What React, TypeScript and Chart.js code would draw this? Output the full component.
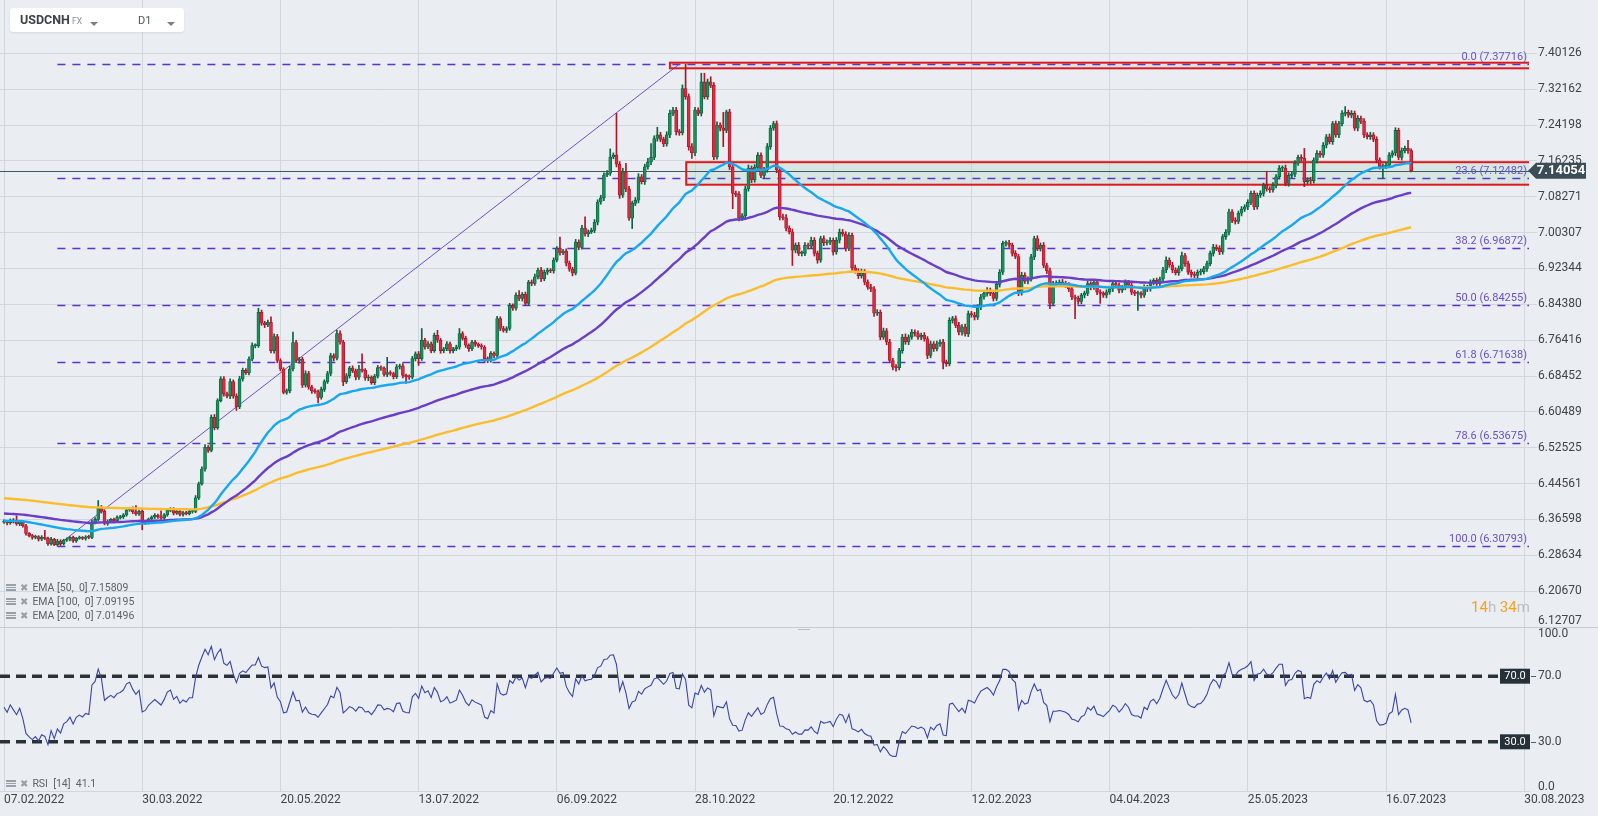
import React, { useEffect, useRef } from "react";
import { Chart, registerables } from "chart.js";

Chart.register(...registerables);

// ---------- layout constants ----------
const W = 1598;
const H = 816;
const MAIN_H = 627;
const RSI_H = H - MAIN_H;
const PLOT_RIGHT = 1529;
const AXIS_W = W - PLOT_RIGHT;
const FONT = "Roboto, 'DejaVu Sans', sans-serif";
const BG = "#eaedf1";
const GRID = "#d2d7dd";

// ---------- data ----------
const symbolName = "USDCNH";
const symbolType = "FX";
const intervalName = "D1";

const dateLabels = [
  "07.02.2022", "30.03.2022", "20.05.2022", "13.07.2022", "06.09.2022", "28.10.2022",
  "20.12.2022", "12.02.2023", "04.04.2023", "25.05.2023", "16.07.2023", "30.08.2023",
];
const dateStep = 44; // candles between two date labels
const xMin = -1.2735;
const xMax = 485.52;

const priceTicks = [
  6.12707, 6.2067, 6.28634, 6.36598, 6.44561, 6.52525, 6.60489, 6.68452, 6.76416,
  6.8438, 6.92344, 7.00307, 7.08271, 7.16235, 7.24198, 7.32162, 7.40126,
];
const priceMin = 6.12707;
const priceMax = 7.51963;

const firstOpen = 6.36;
const closes = [
  6.362, 6.358, 6.364, 6.360, 6.356, 6.361, 6.352, 6.335, 6.330, 6.326,
  6.328, 6.322, 6.326, 6.324, 6.312, 6.322, 6.310, 6.318, 6.312, 6.320,
  6.322, 6.326, 6.318, 6.324, 6.326, 6.324, 6.327, 6.326, 6.360, 6.366,
  6.393, 6.384, 6.357, 6.362, 6.366, 6.363, 6.370, 6.372, 6.376, 6.387,
  6.390, 6.383, 6.378, 6.384, 6.358, 6.360, 6.367, 6.371, 6.375, 6.372,
  6.369, 6.376, 6.386, 6.389, 6.380, 6.384, 6.377, 6.381, 6.379, 6.384,
  6.384, 6.414, 6.445, 6.478, 6.526, 6.519, 6.593, 6.570, 6.630, 6.678,
  6.645, 6.640, 6.672, 6.640, 6.616, 6.678, 6.697, 6.692, 6.722, 6.752,
  6.752, 6.826, 6.802, 6.798, 6.804, 6.741, 6.772, 6.719, 6.700, 6.648,
  6.652, 6.700, 6.759, 6.719, 6.722, 6.664, 6.690, 6.660, 6.652, 6.650,
  6.637, 6.655, 6.672, 6.690, 6.730, 6.724, 6.779, 6.760, 6.672, 6.685,
  6.702, 6.696, 6.682, 6.700, 6.697, 6.680, 6.682, 6.670, 6.684, 6.703,
  6.702, 6.688, 6.692, 6.690, 6.683, 6.705, 6.707, 6.686, 6.683, 6.682,
  6.723, 6.734, 6.723, 6.764, 6.749, 6.756, 6.741, 6.775, 6.764, 6.741,
  6.745, 6.756, 6.741, 6.745, 6.749, 6.779, 6.768, 6.753, 6.745, 6.760,
  6.755, 6.752, 6.749, 6.723, 6.719, 6.735, 6.730, 6.812, 6.790, 6.786,
  6.790, 6.841, 6.835, 6.864, 6.857, 6.866, 6.846, 6.893, 6.890, 6.905,
  6.920, 6.900, 6.915, 6.920, 6.918, 6.942, 6.968, 6.958, 6.962, 6.935,
  6.922, 6.913, 6.982, 6.970, 7.013, 7.000, 7.005, 7.008, 7.026, 7.071,
  7.080, 7.131, 7.135, 7.171, 7.175, 7.155, 7.086, 7.138, 7.100, 7.035,
  7.068, 7.075, 7.127, 7.116, 7.149, 7.160, 7.170, 7.212, 7.220, 7.210,
  7.200, 7.220, 7.268, 7.275, 7.227, 7.225, 7.323, 7.305, 7.194, 7.180,
  7.275, 7.268, 7.338, 7.305, 7.338, 7.330, 7.171, 7.242, 7.235, 7.230,
  7.271, 7.149, 7.090, 7.088, 7.035, 7.040, 7.100, 7.146, 7.120, 7.148,
  7.175, 7.130, 7.142, 7.194, 7.235, 7.245, 7.142, 7.038, 7.036, 7.013,
  7.005, 6.964, 6.975, 6.957, 6.957, 6.975, 6.973, 6.986, 6.957, 6.942,
  6.990, 6.980, 6.982, 6.986, 6.960, 6.986, 7.004, 7.000, 6.968, 6.997,
  6.925, 6.918, 6.907, 6.915, 6.893, 6.882, 6.878, 6.824, 6.826, 6.771,
  6.785, 6.760, 6.719, 6.704, 6.703, 6.741, 6.771, 6.760, 6.771, 6.782,
  6.779, 6.771, 6.775, 6.767, 6.730, 6.756, 6.745, 6.756, 6.760, 6.715,
  6.712, 6.808, 6.812, 6.797, 6.782, 6.794, 6.778, 6.823, 6.820, 6.815,
  6.838, 6.860, 6.868, 6.875, 6.868, 6.857, 6.888, 6.915, 6.979, 6.980,
  6.975, 6.957, 6.950, 6.870, 6.908, 6.895, 6.900, 6.949, 6.990, 6.968,
  6.975, 6.930, 6.918, 6.846, 6.890, 6.890, 6.893, 6.890, 6.886, 6.878,
  6.860, 6.857, 6.850, 6.864, 6.868, 6.890, 6.882, 6.893, 6.871, 6.868,
  6.864, 6.871, 6.878, 6.890, 6.886, 6.875, 6.882, 6.893, 6.886, 6.871,
  6.868, 6.868, 6.864, 6.882, 6.878, 6.893, 6.897, 6.890, 6.900, 6.920,
  6.942, 6.931, 6.920, 6.914, 6.923, 6.952, 6.934, 6.915, 6.910, 6.908,
  6.915, 6.916, 6.923, 6.934, 6.957, 6.971, 6.968, 6.960, 6.994, 7.004,
  7.049, 7.030, 7.028, 7.046, 7.055, 7.060, 7.070, 7.090, 7.060, 7.086,
  7.090, 7.108, 7.100, 7.098, 7.108, 7.127, 7.146, 7.146, 7.112, 7.130,
  7.133, 7.157, 7.170, 7.168, 7.116, 7.120, 7.118, 7.164, 7.179, 7.175,
  7.197, 7.216, 7.205, 7.245, 7.220, 7.245, 7.268, 7.270, 7.264, 7.268,
  7.235, 7.257, 7.250, 7.220, 7.216, 7.220, 7.210, 7.164, 7.149, 7.150,
  7.153, 7.175, 7.180, 7.230, 7.170, 7.185, 7.190, 7.185, 7.14054,
];
// upper / lower shadow length of each candle, in thousandths
const wickUp = [
  3, 2, 3, 4, 14, 3, 2, 3, 2, 3,
  3, 2, 4, 16, 3, 4, 2, 4, 3, 2,
  3, 2, 3, 2, 3, 2, 3, 4, 5, 4,
  15, 4, 3, 3, 2, 3, 4, 3, 3, 4,
  3, 4, 14, 3, 4, 3, 2, 3, 4, 3,
  13, 3, 4, 3, 3, 4, 2, 3, 3, 4,
  3, 5, 4, 5, 6, 4, 5, 6, 4, 5,
  5, 4, 6, 4, 5, 6, 5, 4, 5, 6,
  4, 9, 5, 4, 5, 12, 6, 5, 4, 3,
  4, 6, 23, 5, 4, 4, 6, 5, 4, 4,
  3, 5, 4, 5, 5, 4, 7, 6, 4, 5,
  4, 5, 4, 8, 34, 4, 5, 3, 4, 5,
  4, 3, 34, 4, 3, 5, 4, 5, 3, 4,
  5, 4, 5, 26, 4, 5, 4, 5, 11, 4,
  3, 5, 4, 3, 4, 11, 4, 5, 3, 4,
  4, 3, 4, 3, 4, 4, 3, 5, 4, 5,
  4, 5, 4, 5, 10, 4, 5, 4, 5, 6,
  4, 6, 5, 4, 3, 5, 4, 25, 4, 5,
  5, 4, 6, 5, 6, 25, 4, 5, 6, 5,
  6, 5, 6, 18, 5, 93, 6, 8, 19, 6,
  5, 6, 7, 5, 6, 8, 31, 6, 17, 6,
  5, 7, 7, 6, 6, 5, 8, 54, 6, 7,
  6, 5, 19, 19, 6, 11, 6, 7, 5, 35,
  4, 6, 7, 5, 6, 5, 6, 7, 5, 6,
  6, 5, 6, 7, 6, 5, 6, 5, 6, 7,
  5, 6, 5, 6, 5, 6, 5, 7, 6, 5,
  5, 6, 5, 6, 5, 6, 7, 6, 5, 6,
  5, 6, 5, 7, 6, 5, 6, 5, 6, 5,
  6, 5, 6, 5, 6, 5, 6, 7, 5, 6,
  5, 6, 5, 6, 5, 6, 5, 6, 5, 6,
  5, 6, 5, 6, 7, 5, 6, 6, 5, 6,
  5, 6, 5, 6, 5, 6, 5, 6, 5, 5,
  6, 5, 6, 5, 7, 6, 5, 6, 5, 6,
  5, 6, 5, 6, 5, 6, 5, 6, 5, 6,
  5, 4, 5, 4, 5, 6, 4, 5, 4, 5,
  4, 5, 4, 5, 4, 5, 4, 5, 4, 5,
  4, 5, 4, 5, 4, 5, 4, 5, 4, 6,
  7, 5, 6, 5, 6, 8, 5, 6, 5, 6,
  5, 6, 5, 6, 5, 6, 5, 6, 5, 6,
  6, 5, 6, 5, 6, 5, 6, 5, 6, 5,
  6, 5, 30, 5, 6, 5, 6, 5, 7, 6,
  5, 6, 5, 6, 22, 5, 6, 5, 6, 5,
  6, 5, 6, 5, 6, 5, 6, 13, 5, 6,
  5, 6, 5, 6, 5, 6, 5, 6, 5, 6,
  5, 6, 5, 6, 5, 6, 5, 18, 4,
];
const wickDown = [
  3, 4, 3, 2, 3, 4, 3, 4, 3, 4,
  3, 4, 3, 3, 4, 3, 2.1, 3, 4, 3,
  3, 4, 3, 3, 2, 3, 4, 3, 3, 4,
  3, 4, 3, 4, 3, 3, 4, 3, 4, 3,
  3, 4, 3, 3, 15, 3, 4, 3, 3, 4,
  3, 4, 3, 3, 4, 3, 3, 4, 3, 3,
  4, 3, 4, 3, 5, 4, 3, 5, 4, 3,
  5, 4, 6, 5, 8, 4, 5, 4, 5, 4,
  5, 4, 5, 6, 4, 5, 6, 5, 4, 3,
  4, 5, 4, 5, 6, 5, 4, 5, 6, 4,
  12, 4, 5, 4, 5, 6, 4, 5, 9, 4,
  5, 4, 6, 5, 4, 5, 6, 4, 5, 4,
  5, 4, 5, 4, 5, 4, 5, 6, 15, 5,
  4, 5, 15, 4, 5, 4, 5, 4, 5, 6,
  5, 4, 6, 5, 4, 5, 4, 5, 6, 4,
  5, 4, 5, 8, 5, 4, 5, 4, 5, 4,
  5, 4, 5, 4, 5, 6, 5, 4, 5, 4,
  5, 6, 4, 5, 4, 5, 4, 5, 4, 6,
  5, 6, 4, 5, 4, 5, 6, 4, 5, 6,
  5, 6, 4, 5, 4, 6, 7, 5, 6, 5,
  23, 5, 6, 5, 6, 5, 6, 5, 6, 5,
  6, 5, 6, 5, 7, 6, 5, 6, 8, 12,
  6, 5, 6, 5, 6, 5, 6, 5, 6, 36,
  5, 6, 34, 5, 6, 5, 6, 5, 6, 5,
  6, 5, 6, 5, 6, 5, 6, 7, 5, 6,
  5, 34, 6, 5, 6, 5, 6, 5, 6, 7,
  5, 6, 5, 6, 7, 5, 6, 5, 6, 5,
  6, 5, 6, 5, 6, 5, 6, 7, 5, 6,
  5, 6, 5, 6, 8, 5, 6, 5, 6, 5,
  6, 5, 6, 5, 7, 5, 6, 5, 6, 15,
  6, 5, 6, 5, 6, 7, 5, 6, 5, 6,
  5, 6, 5, 6, 5, 6, 5, 6, 5, 6,
  5, 6, 5, 7, 6, 5, 6, 5, 6, 5,
  6, 5, 6, 12, 5, 6, 5, 6, 5, 6,
  6, 45, 6, 5, 6, 5, 6, 5, 6, 22,
  5, 6, 5, 6, 5, 6, 5, 6, 5, 6,
  5, 38, 6, 5, 6, 5, 6, 5, 6, 5,
  6, 5, 6, 5, 6, 5, 6, 5, 6, 5,
  5, 6, 5, 6, 5, 6, 5, 6, 5, 6,
  6, 5, 6, 5, 6, 5, 6, 5, 6, 5,
  5, 6, 5, 6, 5, 6, 5, 6, 5, 6,
  5, 6, 5, 6, 11, 5, 6, 5, 6, 5,
  5, 6, 5, 6, 5, 6, 5, 6, 5, 6,
  5, 6, 5, 6, 5, 6, 5, 6, 5, 25,
  5, 6, 5, 6, 5, 6, 5, 6, 3,
];

const emaPeriods = [50, 100, 200];
const emaSeeds = [6.363, 6.379, 6.413];
const emaColors = ["#17a8ef", "#6a3ec6", "#fbbd2c"];
const emaLegendValues = ["7.15809", "7.09195", "7.01496"];

const rsiPeriod = 14;
const rsiSeedGain = 0.0025;
const rsiSeedLoss = 0.0024;
const rsiLegendValue = "41.1";
const rsiLevels = [70, 30];
const rsiAxisTicks = [100, 70, 30, 0];

const fibLevels = [
  { ratio: "0.0", value: 7.37716 },
  { ratio: "23.6", value: 7.12482 },
  { ratio: "38.2", value: 6.96872 },
  { ratio: "50.0", value: 6.84255 },
  { ratio: "61.8", value: 6.71638 },
  { ratio: "78.6", value: 6.53675 },
  { ratio: "100.0", value: 6.30793 },
];
const fibLowIdx = 17;
const fibHighIdx = 215;

const zones = [
  { fromIdx: 212, top: 7.3804, bottom: 7.3679 },
  { fromIdx: 217.2, top: 7.1594, bottom: 7.1094 },
];
const lastPrice = 7.14054;
const countdown = { hours: "14", minutes: "34" };

// ---------- derived ----------
const opens = closes.map((c, i) => (i === 0 ? firstOpen : closes[i - 1]));
const highs = closes.map((c, i) => Math.max(opens[i], c) + (wickUp[i] ?? 3) / 1000);
const lows = closes.map((c, i) => Math.min(opens[i], c) - (wickDown[i] ?? 3) / 1000);

function emaSeries(period: number, seed: number) {
  const k = 2 / (period + 1);
  const out: number[] = [];
  closes.forEach((c, i) => {
    out.push(i === 0 ? seed : out[i - 1] + k * (c - out[i - 1]));
  });
  return out;
}

function rsiSeries() {
  let g = rsiSeedGain;
  let l = rsiSeedLoss;
  const out: number[] = [100 - 100 / (1 + g / l)];
  for (let i = 1; i < closes.length; i++) {
    const ch = closes[i] - closes[i - 1];
    g = (g * (rsiPeriod - 1) + Math.max(ch, 0)) / rsiPeriod;
    l = (l * (rsiPeriod - 1) + Math.max(-ch, 0)) / rsiPeriod;
    out.push(l === 0 ? 100 : 100 - 100 / (1 + g / l));
  }
  return out;
}

const UP_FILL = "#17915b";
const UP_EDGE = "#0b6440";
const DN_FILL = "#e2283f";
const DN_EDGE = "#a9172b";

const mainPlugin = {
  id: "mainOverlay",
  beforeDatasetsDraw(chart: any) {
    const { ctx, chartArea: a } = chart;
    const xs = chart.scales.x;
    const ys = chart.scales.y;
    ctx.save();
    ctx.beginPath();
    ctx.rect(a.left, a.top, a.right - a.left, a.bottom - a.top);
    ctx.clip();
    for (const z of zones) {
      const x0 = xs.getPixelForValue(z.fromIdx);
      const y0 = ys.getPixelForValue(z.top);
      const y1 = ys.getPixelForValue(z.bottom);
      ctx.fillStyle = "rgba(170, 218, 200, 0.32)";
      ctx.fillRect(x0, y0, a.right - x0, y1 - y0);
    }
    const fx0 = xs.getPixelForValue(fibLowIdx);
    ctx.strokeStyle = "#5b34c9";
    ctx.lineWidth = 1.3;
    ctx.setLineDash([8, 7]);
    for (const f of fibLevels) {
      const yy = Math.round(ys.getPixelForValue(f.value)) + 0.5;
      ctx.beginPath();
      ctx.moveTo(fx0, yy);
      ctx.lineTo(a.right, yy);
      ctx.stroke();
    }
    ctx.setLineDash([]);
    ctx.strokeStyle = "#6d50d0";
    ctx.lineWidth = 1;
    ctx.beginPath();
    ctx.moveTo(fx0, ys.getPixelForValue(fibLevels[fibLevels.length - 1].value));
    ctx.lineTo(xs.getPixelForValue(fibHighIdx), ys.getPixelForValue(fibLevels[0].value));
    ctx.stroke();
    const ly = Math.round(ys.getPixelForValue(lastPrice)) + 0.5;
    ctx.strokeStyle = "#46565f";
    ctx.beginPath();
    ctx.moveTo(a.left, ly);
    ctx.lineTo(a.right, ly);
    ctx.stroke();
    ctx.strokeStyle = "#e0171d";
    ctx.lineWidth = 2;
    for (const z of zones) {
      const x0 = xs.getPixelForValue(z.fromIdx);
      const y0 = ys.getPixelForValue(z.top);
      const y1 = ys.getPixelForValue(z.bottom);
      ctx.strokeRect(x0, y0, a.right - x0 + 4, y1 - y0);
    }
    ctx.restore();
  },
  afterDatasetsDraw(chart: any) {
    const { ctx, chartArea: a } = chart;
    const ys = chart.scales.y;
    ctx.save();
    ctx.font = `11px ${FONT}`;
    ctx.fillStyle = "#6a50c8";
    ctx.textAlign = "right";
    ctx.textBaseline = "alphabetic";
    for (const f of fibLevels) {
      const yy = ys.getPixelForValue(f.value);
      ctx.fillText(`${f.ratio} (${f.value.toFixed(5)})`, a.right - 2, yy - 4);
    }
    ctx.restore();
  },
  afterDraw(chart: any) {
    const { ctx, chartArea: a } = chart;
    const ys = chart.scales.y;
    ctx.save();
    ctx.font = `12px ${FONT}`;
    ctx.fillStyle = "#404448";
    ctx.textAlign = "left";
    ctx.textBaseline = "middle";
    for (const v of priceTicks) {
      let yy = ys.getPixelForValue(v);
      if (yy > a.bottom - 6) yy = a.bottom - 6;
      ctx.fillText(v.toFixed(5), a.right + 9, yy);
    }
    const py = ys.getPixelForValue(lastPrice);
    const bx = a.right - 1;
    ctx.fillStyle = "#3b4d57";
    ctx.beginPath();
    ctx.moveTo(bx, py);
    ctx.lineTo(bx + 8, py - 8);
    ctx.lineTo(bx + 58, py - 8);
    ctx.lineTo(bx + 58, py + 8);
    ctx.lineTo(bx + 8, py + 8);
    ctx.closePath();
    ctx.fill();
    ctx.fillStyle = "#ffffff";
    ctx.font = `bold 13px ${FONT}`;
    ctx.textAlign = "center";
    ctx.fillText(lastPrice.toFixed(5), bx + 33, py + 0.5);
    ctx.restore();
  },
};

const rsiPlugin = {
  id: "rsiOverlay",
  beforeDatasetsDraw(chart: any) {
    const { ctx, chartArea: a } = chart;
    const ys = chart.scales.y;
    ctx.save();
    ctx.strokeStyle = "#2a3238";
    ctx.lineWidth = 3.5;
    ctx.setLineDash([10, 6]);
    for (const lv of rsiLevels) {
      const yy = ys.getPixelForValue(lv);
      ctx.beginPath();
      ctx.moveTo(a.left, yy);
      ctx.lineTo(a.right - 29, yy);
      ctx.stroke();
    }
    ctx.restore();
  },
  afterDraw(chart: any) {
    const { ctx, chartArea: a } = chart;
    const ys = chart.scales.y;
    ctx.save();
    ctx.strokeStyle = "#c6ccd2";
    ctx.lineWidth = 1;
    ctx.beginPath();
    ctx.moveTo(0, 0.5);
    ctx.lineTo(W, 0.5);
    ctx.stroke();
    ctx.strokeStyle = "#b9c0c7";
    ctx.beginPath();
    ctx.moveTo(798, 2.5);
    ctx.lineTo(810, 2.5);
    ctx.stroke();
    for (const lv of rsiLevels) {
      const yy = ys.getPixelForValue(lv);
      ctx.fillStyle = "#263238";
      ctx.fillRect(a.right - 29, yy - 7.5, 30, 15);
      ctx.fillStyle = "#ffffff";
      ctx.font = `11px ${FONT}`;
      ctx.textAlign = "center";
      ctx.textBaseline = "middle";
      ctx.fillText(lv.toFixed(1), a.right - 14, yy + 0.5);
      ctx.strokeStyle = "#555c62";
      ctx.lineWidth = 1;
      ctx.beginPath();
      ctx.moveTo(a.right + 2, Math.round(yy) + 0.5);
      ctx.lineTo(a.right + 7, Math.round(yy) + 0.5);
      ctx.stroke();
    }
    ctx.font = `12px ${FONT}`;
    ctx.fillStyle = "#404448";
    ctx.textAlign = "left";
    ctx.textBaseline = "middle";
    for (const v of rsiAxisTicks) {
      let yy = ys.getPixelForValue(v);
      yy = Math.min(Math.max(yy, a.top + 7), a.bottom - 4);
      ctx.fillText(v.toFixed(1), a.right + 9, yy);
    }
    ctx.restore();
  },
};

function LegendRow({ top, text }: { top: number; text: string }) {
  return (
    <div
      style={{
        position: "absolute",
        left: 6,
        top,
        height: 14,
        display: "flex",
        alignItems: "center",
        fontFamily: FONT,
        fontSize: 10.5,
        color: "#5f6368",
        whiteSpace: "pre",
      }}
    >
      <div
        style={{
          width: 10,
          height: 7,
          background:
            "linear-gradient(#9aa0a6 0 2px, transparent 2px 3px, #9aa0a6 3px 4px, transparent 4px 5px, #9aa0a6 5px 7px)",
          marginRight: 4,
        }}
      />
      <span style={{ color: "#9aa0a6", fontSize: 10, marginRight: 4 }}>✖</span>
      <span>{text}</span>
    </div>
  );
}

function Caret({ left }: { left: number }) {
  return (
    <div
      style={{
        position: "absolute",
        left,
        top: 14,
        width: 0,
        height: 0,
        borderLeft: "4px solid transparent",
        borderRight: "4px solid transparent",
        borderTop: "4px solid #7a7f85",
      }}
    />
  );
}

export default function App() {
  const mainRef = useRef<HTMLCanvasElement>(null);
  const rsiRef = useRef<HTMLCanvasElement>(null);

  useEffect(() => {
    Chart.defaults.font.family = FONT;
    const emas = emaPeriods.map((p, i) => emaSeries(p, emaSeeds[i]));
    const rsi = rsiSeries();
    const isUp = closes.map((c, i) => c >= opens[i]);

    const xScaleBase = {
      type: "linear" as const,
      min: xMin,
      max: xMax,
      offset: false,
      afterBuildTicks: (s: any) => {
        s.ticks = dateLabels.map((_, k) => ({ value: k * dateStep }));
      },
    };

    const main = new Chart(mainRef.current as HTMLCanvasElement, {
      type: "bar",
      data: {
        datasets: [
          ...emas.map((e, k) => ({
            type: "line" as const,
            label: `EMA ${emaPeriods[k]}`,
            data: e.map((v, i) => ({ x: i, y: v })),
            borderColor: emaColors[k],
            borderWidth: 2.4,
            pointRadius: 0,
            tension: 0,
            order: 0,
          })),
          {
            type: "bar" as const,
            label: "body",
            data: closes.map((c, i) => ({ x: i, y: [opens[i], c] })),
            backgroundColor: isUp.map((u) => (u ? UP_FILL : DN_FILL)),
            borderColor: isUp.map((u) => (u ? UP_EDGE : DN_EDGE)),
            borderWidth: 0.8,
            borderSkipped: false,
            barThickness: 3,
            grouped: false,
            minBarLength: 1,
            order: 1,
          },
          {
            type: "bar" as const,
            label: "wick",
            data: closes.map((c, i) => ({ x: i, y: [lows[i], highs[i]] })),
            backgroundColor: isUp.map((u) => (u ? UP_EDGE : DN_EDGE)),
            borderWidth: 0,
            barThickness: 1,
            grouped: false,
            order: 2,
          },
        ] as any,
      },
      options: {
        responsive: false,
        animation: false,
        events: [],
        layout: { padding: 0 },
        plugins: { legend: { display: false }, tooltip: { enabled: false } },
        scales: {
          x: {
            ...xScaleBase,
            afterFit: (s: any) => {
              s.height = 0;
            },
            ticks: { display: false },
            grid: { color: GRID, drawTicks: false, offset: false },
            border: { display: false },
          },
          y: {
            type: "linear",
            position: "right",
            min: priceMin,
            max: priceMax,
            beginAtZero: false,
            afterBuildTicks: (s: any) => {
              s.ticks = priceTicks.map((v) => ({ value: v }));
            },
            afterFit: (s: any) => {
              s.width = AXIS_W;
            },
            ticks: { display: false },
            grid: { color: GRID, drawTicks: true, tickLength: 8 },
            border: { display: false },
          },
        } as any,
      },
      plugins: [mainPlugin],
    });

    const rsiChart = new Chart(rsiRef.current as HTMLCanvasElement, {
      type: "line",
      data: {
        datasets: [
          {
            label: "RSI",
            data: rsi.map((v, i) => ({ x: i, y: v })),
            borderColor: "#3a45a8",
            borderWidth: 1.1,
            pointRadius: 0,
            tension: 0,
          },
        ],
      },
      options: {
        responsive: false,
        animation: false,
        events: [],
        layout: { padding: 0 },
        plugins: { legend: { display: false }, tooltip: { enabled: false } },
        scales: {
          x: {
            ...xScaleBase,
            afterFit: (s: any) => {
              s.height = 25;
            },
            ticks: {
              display: true,
              autoSkip: false,
              maxRotation: 0,
              align: "start",
              padding: 2,
              color: "#404448",
              font: { size: 12, family: FONT },
              callback: (_v: any, i: number) => dateLabels[i] ?? "",
            },
            grid: { color: GRID, drawTicks: false },
            border: { display: true, color: GRID },
          },
          y: {
            type: "linear",
            position: "right",
            min: 0,
            max: 100,
            afterFit: (s: any) => {
              s.width = AXIS_W;
            },
            ticks: { display: false },
            grid: { display: false },
            border: { display: false },
          },
        } as any,
      },
      plugins: [rsiPlugin],
    });

    return () => {
      main.destroy();
      rsiChart.destroy();
    };
  }, []);

  return (
    <div
      style={{
        position: "absolute",
        left: 0,
        top: 0,
        width: W,
        height: H,
        background: BG,
        overflow: "hidden",
      }}
    >
      <canvas ref={mainRef} width={W} height={MAIN_H} style={{ position: "absolute", left: 0, top: 0 }} />
      <canvas ref={rsiRef} width={W} height={RSI_H} style={{ position: "absolute", left: 0, top: MAIN_H }} />

      <div
        style={{
          position: "absolute",
          left: 10,
          top: 8,
          width: 174,
          height: 24,
          background: "#ffffff",
          borderRadius: 3,
          boxShadow: "0 1px 2px rgba(0,0,0,0.08)",
          fontFamily: FONT,
        }}
      >
        <span
          style={{ position: "absolute", left: 10, top: 4, fontSize: 12.5, fontWeight: 700, color: "#3c4146" }}
        >
          {symbolName}
        </span>
        <span style={{ position: "absolute", left: 62, top: 8, fontSize: 8.5, color: "#8a8f95" }}>{symbolType}</span>
        <Caret left={80} />
        <span style={{ position: "absolute", left: 128, top: 6, fontSize: 11, color: "#50555a" }}>{intervalName}</span>
        <Caret left={157} />
      </div>

      {emaPeriods.map((p, k) => (
        <LegendRow key={p} top={580 + k * 14} text={`EMA [${p},  0] ${emaLegendValues[k]}`} />
      ))}
      <LegendRow top={776} text={`RSI  [${rsiPeriod}]  ${rsiLegendValue}`} />

      <div
        style={{
          position: "absolute",
          left: 1471,
          top: 598,
          fontFamily: FONT,
          fontSize: 15,
          lineHeight: "18px",
          whiteSpace: "pre",
        }}
      >
        <span style={{ color: "#f6a11f" }}>{countdown.hours}</span>
        <span style={{ color: "#b9bec4" }}>h </span>
        <span style={{ color: "#f6a11f" }}>{countdown.minutes}</span>
        <span style={{ color: "#b9bec4" }}>m</span>
      </div>
    </div>
  );
}
